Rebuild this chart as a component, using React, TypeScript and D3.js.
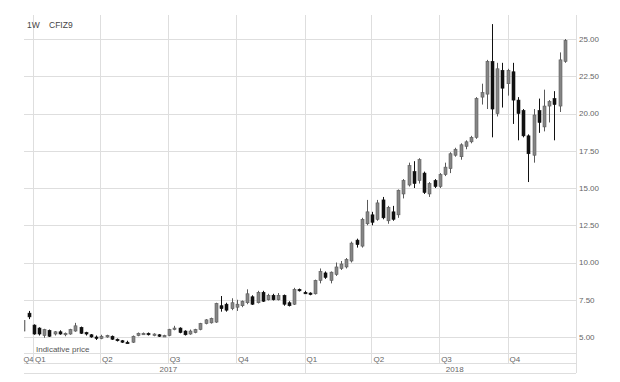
import React from "react";
import * as d3 from "d3";

const dates: string[] = [
  "2016-12-19","2016-12-26",
  "2017-01-02","2017-01-09","2017-01-16","2017-01-23","2017-01-30","2017-02-06","2017-02-13","2017-02-20","2017-02-27",
  "2017-03-06","2017-03-13","2017-03-20","2017-03-27","2017-04-03","2017-04-10","2017-04-17","2017-04-24","2017-05-01",
  "2017-05-08","2017-05-15","2017-05-22","2017-05-29","2017-06-05","2017-06-12","2017-06-19","2017-06-26","2017-07-03",
  "2017-07-10","2017-07-17","2017-07-24","2017-07-31","2017-08-07","2017-08-14","2017-08-21","2017-08-28","2017-09-04",
  "2017-09-11","2017-09-18","2017-09-25","2017-10-02","2017-10-09","2017-10-16","2017-10-23","2017-10-30","2017-11-06",
  "2017-11-13","2017-11-20","2017-11-27","2017-12-04","2017-12-11","2017-12-18","2017-12-25",
  "2018-01-01","2018-01-08","2018-01-15","2018-01-22","2018-01-29","2018-02-05","2018-02-12","2018-02-19","2018-02-26",
  "2018-03-05","2018-03-12","2018-03-19","2018-03-26","2018-04-02","2018-04-09","2018-04-16","2018-04-23","2018-04-30",
  "2018-05-07","2018-05-14","2018-05-21","2018-05-28","2018-06-04","2018-06-11","2018-06-18","2018-06-25","2018-07-02",
  "2018-07-09","2018-07-16","2018-07-23","2018-07-30","2018-08-06","2018-08-13","2018-08-20","2018-08-27","2018-09-03",
  "2018-09-10","2018-09-17","2018-09-24","2018-10-01","2018-10-08","2018-10-15","2018-10-22","2018-10-29","2018-11-05",
  "2018-11-12","2018-11-19","2018-11-26","2018-12-03","2018-12-10","2018-12-17",
];

const open: number[] = [
  5.4,6.6,5.8,5.6,5.1,5.45,5.2,5.35,5.15,5.2,5.4,5.65,5.3,5.15,5.0,4.9,5.05,5.05,4.85,4.75,
  4.65,4.65,5.1,5.2,5.25,5.15,5.15,5.05,5.1,5.5,5.6,5.4,5.2,5.3,5.5,5.9,5.95,6.0,7.1,7.2,
  6.9,7.0,7.1,7.3,7.7,7.3,8.0,7.5,7.8,7.5,7.8,7.3,7.2,8.2,8.0,7.95,7.9,8.8,9.3,8.8,
  9.2,9.6,9.7,10.1,11.5,11.1,12.6,13.2,12.9,14.2,12.8,13.4,13.2,14.6,15.2,16.1,15.5,16.0,14.6,15.5,
  15.1,15.9,16.3,17.2,17.1,17.8,18.1,18.4,21.1,21.3,23.5,20.0,22.9,22.0,22.8,20.9,20.2,18.5,17.2,20.2,
  19.1,20.5,21.0,20.5,23.5,
];
const high: number[] = [
  6.3,6.75,5.85,5.65,5.55,5.5,5.4,5.45,5.3,5.55,5.95,5.7,5.35,5.2,5.1,5.15,5.15,5.1,4.9,4.8,
  4.75,5.1,5.3,5.3,5.3,5.25,5.2,5.15,5.55,5.75,5.65,5.45,5.5,5.55,5.95,6.2,6.3,7.3,7.75,7.3,
  7.6,7.5,7.45,8.2,7.8,8.1,8.1,7.9,7.9,7.95,7.85,7.4,8.3,8.25,8.1,8.0,8.85,9.6,9.4,9.4,
  10.0,10.1,10.3,11.4,11.6,13.0,14.2,13.4,14.2,14.4,13.8,13.8,14.9,15.6,16.7,16.8,17.0,16.1,15.4,15.6,
  16.0,16.7,17.4,17.7,18.0,18.2,18.5,21.1,22.0,23.6,26.0,23.4,23.4,23.0,23.4,21.1,20.3,18.6,20.3,21.0,
  21.6,20.9,21.5,24.1,25.0,
];
const low: number[] = [
  5.2,6.2,5.15,5.1,4.95,5.0,5.1,5.15,5.05,5.15,5.35,5.2,5.1,4.95,4.8,4.85,4.95,4.8,4.7,4.6,
  4.55,4.6,5.05,5.15,5.1,5.05,5.0,5.0,5.05,5.45,5.25,5.1,5.15,5.25,5.45,5.85,5.9,5.95,6.7,6.7,
  6.8,6.75,7.0,7.2,7.15,7.25,7.35,7.45,7.45,7.45,7.1,7.05,7.15,8.05,7.9,7.8,7.85,8.6,8.9,8.6,
  9.1,9.5,9.6,10.0,11.0,11.0,12.5,12.5,12.8,12.9,12.6,12.8,13.0,14.3,15.1,15.0,15.3,14.6,14.4,15.0,
  15.0,15.8,16.0,17.1,16.9,17.6,18.0,18.3,20.6,20.3,18.4,19.8,20.4,21.2,19.3,18.2,18.4,15.4,16.7,18.7,
  18.8,19.4,18.2,20.1,23.4,
];
const close: number[] = [
  6.1,6.35,5.2,5.2,5.5,5.05,5.35,5.2,5.25,5.5,5.75,5.25,5.2,5.0,4.9,5.05,5.1,4.85,4.75,4.65,
  4.6,5.05,5.25,5.25,5.15,5.2,5.05,5.1,5.5,5.6,5.3,5.15,5.4,5.5,5.9,6.15,6.25,7.25,6.9,6.8,
  7.3,7.2,7.4,7.9,7.2,8.0,7.4,7.8,7.5,7.8,7.2,7.1,8.2,8.1,7.95,7.85,8.8,9.4,9.0,9.35,
  9.7,9.9,10.2,11.3,11.2,12.9,13.4,12.7,14.0,13.0,13.7,12.9,14.85,15.5,16.5,15.3,16.9,14.7,15.3,15.1,
  15.9,16.4,17.3,17.6,17.9,18.1,18.4,21.0,21.4,23.5,20.3,23.0,21.7,22.9,20.9,20.0,18.5,17.3,19.9,19.4,
  20.5,20.8,20.6,23.6,24.9,
];

const priceTicks: number[] = [5, 7.5, 10, 12.5, 15, 17.5, 20, 22.5, 25];
const quarterStarts: string[] = ["2016-10-01","2017-01-01","2017-04-01","2017-07-01","2017-10-01","2018-01-01","2018-04-01","2018-07-01","2018-10-01"];
const quarterLabels: string[] = ["Q4","Q1","Q2","Q3","Q4","Q1","Q2","Q3","Q4"];
const yearLabels: string[] = ["2017","2018"];
const yearLabelAnchors: string[] = ["2017-07-02","2018-07-22"];
const yearBoundaries: string[] = ["2018-01-01"];

const W = 620, H = 382;
const left = 24, right = 576, plotTop = 15, plotBottom = 353;
const qRowBottom = 363, yRowBottom = 373;
const gridColor = "#dedede";
const textColor = "#666";
const font = "'Liberation Sans', Arial, sans-serif";

export default function App() {
  const parse = d3.timeParse("%Y-%m-%d");
  const x = d3.scaleTime()
    .domain([parse("2017-01-01") as Date, parse("2019-01-01") as Date])
    .range([33, right]);
  const y = d3.scaleLinear().domain([5, 25]).range([337, 39]);

  const data = dates.map((d, i) => ({
    date: parse(d) as Date,
    o: open[i], h: high[i], l: low[i], c: close[i],
  }));
  const bw = 3;

  return (
    <div style={{ position: "absolute", left: 0, top: 0, width: W, height: H, background: "#fff" }}>
      <svg width={W} height={H} style={{ display: "block" }} fontFamily={font}>
        <defs>
          <clipPath id="plotClip">
            <rect x={left} y={plotTop} width={right - left} height={plotBottom - plotTop} />
          </clipPath>
        </defs>
        {priceTicks.map((t) => (
          <line key={"h" + t} x1={left} x2={right} y1={Math.round(y(t)) + 0.5} y2={Math.round(y(t)) + 0.5} stroke={gridColor} strokeWidth={1} />
        ))}
        {quarterStarts.map((q) => {
          const xv = x(parse(q) as Date);
          if (xv < left) return null;
          const isYear = yearBoundaries.includes(q);
          return (
            <line key={"v" + q} x1={Math.round(xv) + 0.5} x2={Math.round(xv) + 0.5} y1={plotTop} y2={isYear ? yRowBottom : qRowBottom} stroke={gridColor} strokeWidth={1} />
          );
        })}
        <line x1={right + 0.5} x2={right + 0.5} y1={plotTop} y2={yRowBottom} stroke={gridColor} />
        <line x1={left} x2={right} y1={plotBottom + 0.5} y2={plotBottom + 0.5} stroke={gridColor} />
        <line x1={left} x2={right} y1={qRowBottom + 0.5} y2={qRowBottom + 0.5} stroke={gridColor} />
        <line x1={left} x2={right} y1={yRowBottom + 0.5} y2={yRowBottom + 0.5} stroke={gridColor} />

        <g clipPath="url(#plotClip)">
          {data.map((d, i) => {
            const cx = Math.round(x(d.date)) + 0.5;
            const up = d.c >= d.o;
            const col = up ? "#5a5a5a" : "#111";
            const fill = up ? "#858585" : "#111";
            const top = y(Math.max(d.o, d.c));
            const bot = y(Math.min(d.o, d.c));
            const bh = Math.max(1.5, bot - top);
            return (
              <g key={i}>
                <line x1={cx} x2={cx} y1={y(d.h)} y2={y(d.l)} stroke={col} strokeWidth={1} />
                <rect x={cx - bw / 2} y={top} width={bw} height={bh} fill={fill} stroke={col} strokeWidth={0.6} />
              </g>
            );
          })}
        </g>

        {priceTicks.map((t) => (
          <text key={"yl" + t} x={579} y={y(t)} dy="0.35em" fontSize={8} fill={textColor}>{t.toFixed(2)}</text>
        ))}

        {quarterStarts.map((q, i) => {
          const raw = x(parse(q) as Date);
          const xv = raw < left ? left - 0.5 : raw + 2;
          return (
            <text key={"ql" + q} x={xv} y={361.5} fontSize={i === 0 ? 7.5 : 8} fill={textColor}>{quarterLabels[i]}</text>
          );
        })}
        {yearLabels.map((yl, i) => (
          <text key={"yr" + yl} x={x(parse(yearLabelAnchors[i]) as Date)} y={371.5} fontSize={8} fill={textColor} textAnchor="middle">{yl}</text>
        ))}

        <text x={27} y={28} fontSize={8.5} fill="#444">1W</text>
        <text x={49} y={28} fontSize={8.5} fill="#444">CFIZ9</text>
        <text x={36} y={351.5} fontSize={8} fill="#555">Indicative price</text>
      </svg>
    </div>
  );
}
